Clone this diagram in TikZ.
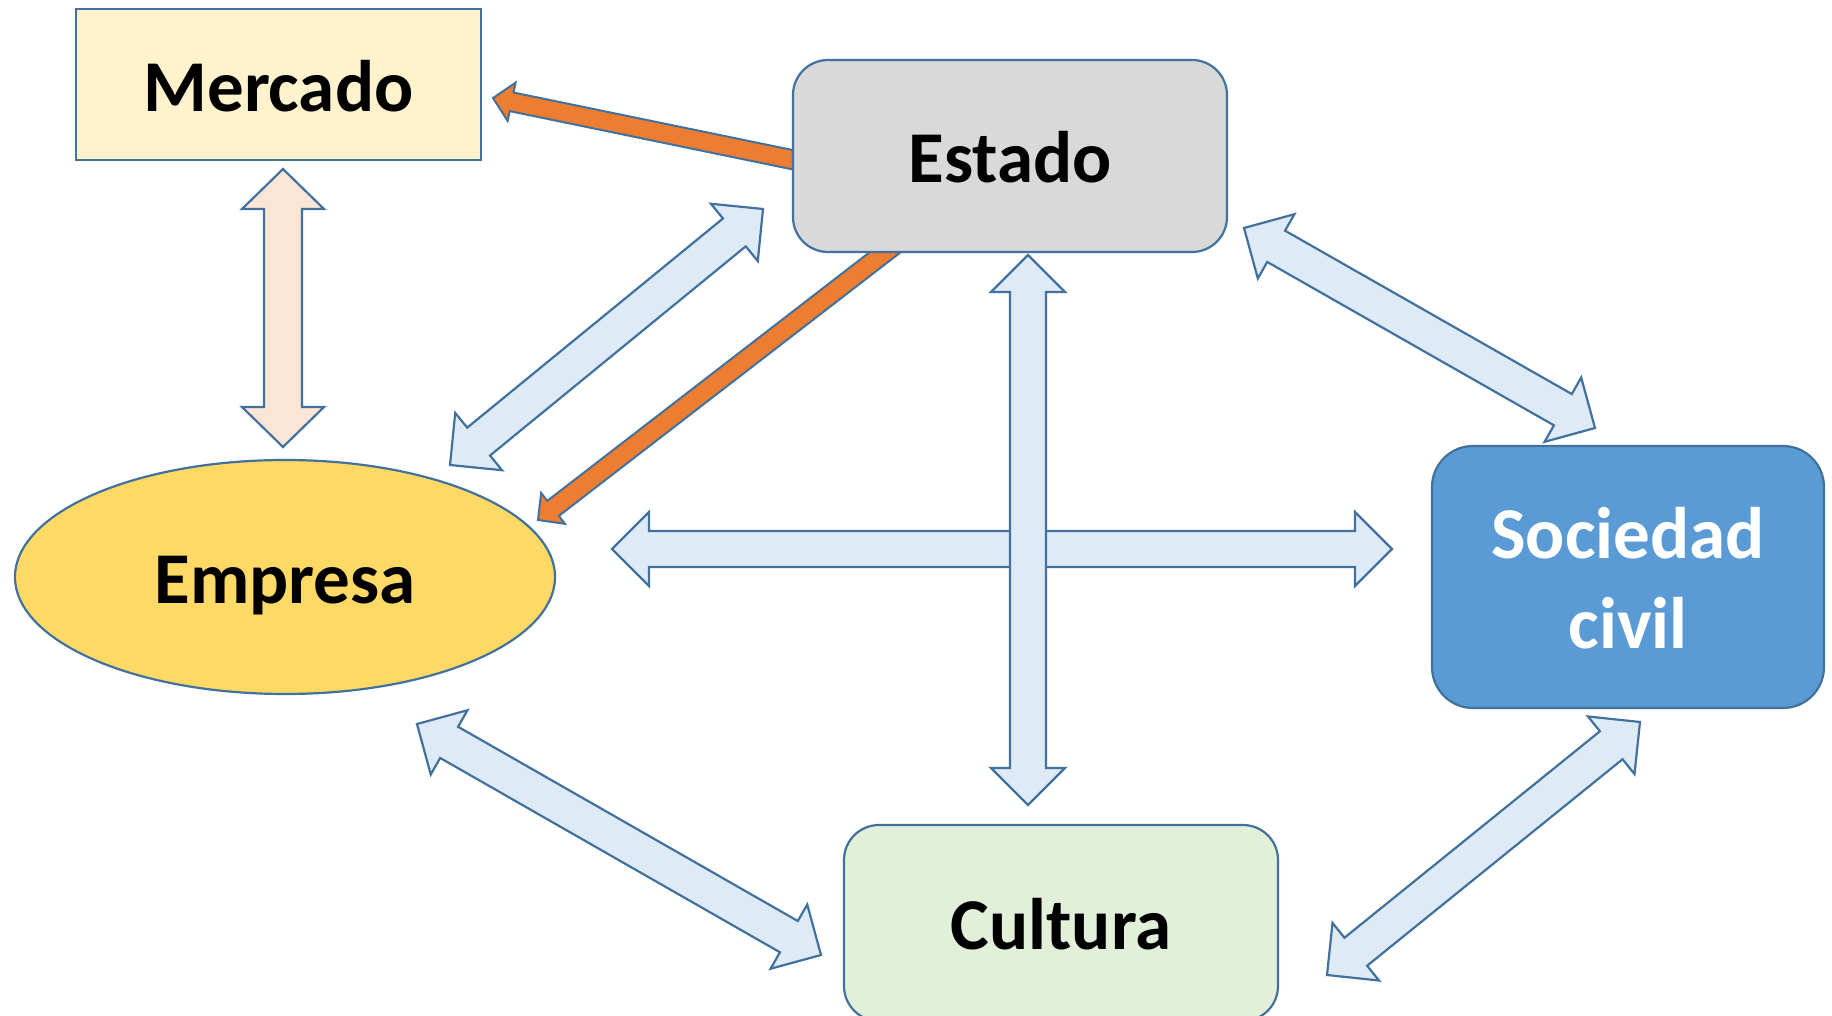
\documentclass[tikz,border=0pt]{standalone}
\usepackage{fontspec}
\setmainfont{Carlito}
\usetikzlibrary{calc,shapes.geometric}
\definecolor{bord}{HTML}{41719C}
\definecolor{mercfill}{HTML}{FFF2CC}
\definecolor{estfill}{HTML}{D9D9D9}
\definecolor{empfill}{HTML}{FFD966}
\definecolor{socfill}{HTML}{5B9BD5}
\definecolor{culfill}{HTML}{E2F0D9}
\definecolor{arrfill}{HTML}{DEEBF7}
\definecolor{peach}{HTML}{FBE5D6}
\definecolor{orng}{HTML}{ED7D31}
\newcommand\dblarr[6][]{%
  \path ($(#2)!#6!(#3)$) coordinate (da1) ($(#3)!#6!(#2)$) coordinate (da2);
  \filldraw[#1] (#2) -- ($(da1)!#5!90:(#3)$) -- ($(da1)!#4!90:(#3)$)
    -- ($(da2)!#4!-90:(#2)$) -- ($(da2)!#5!-90:(#2)$) -- (#3)
    -- ($(da2)!#5!90:(#2)$) -- ($(da2)!#4!90:(#2)$)
    -- ($(da1)!#4!-90:(#3)$) -- ($(da1)!#5!-90:(#3)$) -- cycle;}
\newcommand\sglarr[6][]{%
  \path ($(#3)!#6!(#2)$) coordinate (sa1);
  \filldraw[#1] (#3) -- ($(sa1)!#5!90:(#2)$) -- ($(sa1)!#4!90:(#2)$)
    -- ($(#2)!#4!-90:(sa1)$) -- ($(#2)!#4!90:(sa1)$)
    -- ($(sa1)!#4!-90:(#2)$) -- ($(sa1)!#5!-90:(#2)$) -- cycle;}
\begin{document}
\begin{tikzpicture}[x=1pt,y=-1pt,
  bluearr/.style={draw=bord,fill=arrfill,line width=2.2pt,line join=miter},
  peacharr/.style={draw=bord,fill=peach,line width=2.2pt,line join=miter},
  orarr/.style={draw=bord,fill=orng,line width=2pt,line join=miter},
  lbl/.style={font=\fontsize{73}{90}\selectfont\bfseries,text height=68pt,text depth=14.6pt,inner sep=0pt},
  boxbase/.style={draw=bord,line width=2.2pt,inner sep=0pt}]
\useasboundingbox (0,0) rectangle (1832,1016);
\fill[white] (0,0) rectangle (1832,1016);
% arrow end points
\coordinate (meA) at (283,169);  \coordinate (meB) at (283,447);
\coordinate (vcA) at (1028,255); \coordinate (vcB) at (1028,805);
\coordinate (hzA) at (612,549);  \coordinate (hzB) at (1392,549);
\coordinate (eeA) at (763,209);  \coordinate (eeB) at (450,465);
\coordinate (esA) at (1244,228); \coordinate (esB) at (1595,428);
\coordinate (ecA) at (417,724);  \coordinate (ecB) at (821,955);
\coordinate (scA) at (1640,722); \coordinate (scB) at (1327,975);
\coordinate (oaT) at (823,166);  \coordinate (oaH) at (493,98);
\coordinate (obT) at (901,240);  \coordinate (obH) at (538,520);
% block arrows
\dblarr[peacharr]{meA}{meB}{19pt}{41pt}{40pt}
\dblarr[bluearr]{eeA}{eeB}{18pt}{37pt}{37pt}
\dblarr[bluearr]{esA}{esB}{18pt}{37pt}{37pt}
\dblarr[bluearr]{ecA}{ecB}{18pt}{37pt}{37pt}
\dblarr[bluearr]{scA}{scB}{18pt}{37pt}{37pt}
\dblarr[bluearr]{hzA}{hzB}{18pt}{37pt}{37pt}
\dblarr[bluearr]{vcA}{vcB}{18pt}{37pt}{37pt}
% orange arrows
\sglarr[orarr]{oaT}{oaH}{9.5pt}{19.5pt}{19pt}
\sglarr[orarr]{obT}{obH}{9.5pt}{19.5pt}{19pt}
% nodes
\node[boxbase,fill=mercfill,minimum width=405pt,minimum height=151pt] (mercado) at (278.5,84.5) {};
\node[lbl] (mercadot) at (mercado.center) {Mercado};
\node[boxbase,fill=estfill,rounded corners=35pt,minimum width=434pt,minimum height=192pt] (estado) at (1010,156) {};
\node[lbl] (estadot) at (estado.center) {Estado};
\node[boxbase,ellipse,fill=empfill,minimum width=540pt,minimum height=234pt] (empresa) at (285,577) {};
\node[lbl] (empresat) at (empresa.center) {Empresa};
\node[boxbase,fill=socfill,rounded corners=41pt,minimum width=392pt,minimum height=262pt] (sociedad) at (1628,577) {};
\node[font=\fontsize{73}{90}\selectfont\bfseries,text=white,align=center,inner sep=0pt] (sociedadt) at (1628,578) {Sociedad\\civil};
\node[boxbase,fill=culfill,rounded corners=35pt,minimum width=434pt,minimum height=196pt] (cultura) at (1061,923) {};
\node[lbl] (culturat) at (cultura.center) {Cultura};
\end{tikzpicture}
\end{document}
